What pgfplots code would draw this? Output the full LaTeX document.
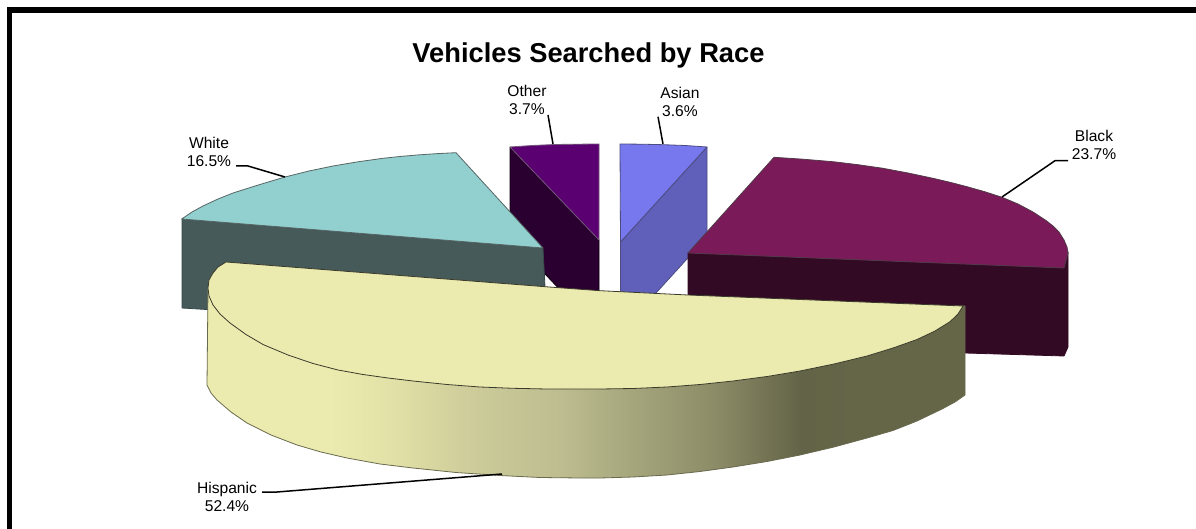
\documentclass[border=0pt]{standalone}
\usepackage{pgfplots}
\pgfplotsset{compat=1.18}
\usepackage{xcolor}
\usepackage{fontspec}
\setmainfont{Liberation Sans}

\definecolor{whitetop}{HTML}{92CFCF}
\definecolor{whiteside}{HTML}{465A5A}
\definecolor{othertop}{HTML}{5A0070}
\definecolor{otherside}{HTML}{2A0030}
\definecolor{asiantop}{HTML}{7777EE}
\definecolor{asianside}{HTML}{6060BB}
\definecolor{blacktop}{HTML}{7A1A58}
\definecolor{blackside}{HTML}{330A24}
\definecolor{hisptop}{HTML}{ECEBAF}
\definecolor{hspA}{HTML}{E0DFA5}
\definecolor{hspB}{HTML}{CBCA99}
\definecolor{hspC}{HTML}{BDBD90}
\definecolor{hspD}{HTML}{A5A57C}
\definecolor{hspE}{HTML}{8A8A66}
\definecolor{hspF}{HTML}{636347}
\definecolor{hspG}{HTML}{656548}

\pgfdeclarehorizontalshading{hispside}{100bp}{
  color(0bp)=(hisptop); color(33.1bp)=(hisptop);
  color(37.7bp)=(hspA);
  color(43bp)=(hspB);
  color(48.3bp)=(hspC);
  color(53.2bp)=(hspD);
  color(58.8bp)=(hspE);
  color(64.2bp)=(hspF);
  color(68bp)=(hspG);
  color(100bp)=(hspG)}

\begin{document}
\begin{tikzpicture}
\begin{axis}[
    scale only axis,
    width=1196pt,
    height=529pt,
    xmin=0, xmax=1196,
    ymin=0, ymax=529,
    y dir=reverse,
    hide axis,
    no marks,
    line join=round,
    every axis plot/.append style={line width=0.8pt},
]
% page background
\addplot[fill=white, draw=none] coordinates {(0,0) (1196,0) (1196,529) (0,529)} --cycle;
% outer frame, left and top only
\addplot[black, line width=5.5pt, line join=miter] coordinates {(9.5,529) (9.5,10) (1196,10)};

% Other
\addplot[fill=otherside, draw=black!70!otherside] coordinates {(510,147) (599,240) (599,331) (510,237)} --cycle;
\addplot[fill=othertop, draw=gray!70!othertop] coordinates {(510,147) (532,145.5) (555,144.5) (577,144.2) (599,144) (599,240)} --cycle;

% Asian
\addplot[fill=asianside, draw=blue!30!black!70] coordinates {(620.5,242) (707,147) (707,237) (620.5,332)} --cycle;
\addplot[fill=asiantop, draw=blue!30!black!70] coordinates {(620,144) (642,144.2) (663,144.7) (685,145.5) (707,147) (620.5,242)} --cycle;

% Black
\addplot[fill=blackside, draw=blackside] coordinates {(688,253) (1064,268) (1068,252) (1068,347) (1064,356) (965,353) (688,342)} --cycle;
\addplot[fill=blacktop, draw=blackside!60!gray] coordinates {
  (774,157.3) (803,159.2) (833,161.7) (858,164.7) (883,168.3) (908,173) (933,178.3) (950,182.3) (967,186.7)
  (985,191.8) (1002,197.3) (1018,204) (1033,212) (1046,220.5) (1053,226) (1059,232) (1064,240) (1067,247) (1068,253) (1064,268)
  (688,253)} --cycle;

% White
\addplot[fill=whiteside, draw=whiteside!80!black] coordinates {(182,219) (543,248) (545,287) (545,330) (182,308)} --cycle;
\addplot[fill=whitetop, draw=whiteside!70!gray] coordinates {
  (181.7,219) (192,212) (203,206) (218,199) (233,193) (259,184.8) (285,177) (309,171) (333,166)
  (358,161.8) (383,158.3) (400,156.5) (417,155) (436,153.7) (456,152.7) (543,248)} --cycle;

% Hispanic
\addplot[shading=hispside, draw=black!55!hisptop] coordinates {
  (208,288) (207,385) (211,393) (217,400) (231,412) (247,423) (271,435) (297,445) (321,452) (347,458)
  (380,464) (413,468) (456,472.5) (500,475.5) (540,477.5) (580,478) (600,478) (633,477) (667,475) (700,471.5) (733,467)
  (767,461.5) (800,455) (834,447) (867,438) (893,430.5) (917,421) (942,409) (955,402) (965,395) (965,306) (208,288)} --cycle;
\addplot[fill=hisptop, draw=black!75!hisptop] coordinates {
  (226,262) (545,286.7) (600,290.7) (688,295) (963,306) (958,314) (950,321.7) (935,331) (917,339.5) (893,348) (867,356)
  (834,364) (800,371) (767,376.5) (733,381) (700,384.5) (667,387) (633,388.5) (600,389) (547,389) (513,388.3)
  (480,387) (447,384.5) (413,381) (388,378) (363,374.5) (338,370) (313,363.5) (288,355) (263,344.5) (246,334.5) (230,323)
  (220,314) (213,305) (209,296) (208,288) (209,280) (213,273) (218,267)} --cycle;

% leader lines
\addplot[black, line width=1.5pt] coordinates {(236,166) (248,166) (285,177)};
\addplot[black, line width=1.5pt] coordinates {(548,115) (553,144)};
\addplot[black, line width=1.5pt] coordinates {(658,116.7) (663,144)};
\addplot[black, line width=1.5pt] coordinates {(1002,197) (1055,160.7) (1068,160.7)};
\addplot[black, line width=1.5pt] coordinates {(262,492) (277,492) (502,474)};

% text
\node[font=\fontsize{27.3}{30}\selectfont\bfseries] at (axis cs:588.5,55) {Vehicles Searched by Race};
\node[font=\fontsize{15.6}{18}\selectfont, align=center] at (axis cs:527,100) {Other\\3.7\%};
\node[font=\fontsize{15.6}{18}\selectfont, align=center] at (axis cs:680,102) {Asian\\3.6\%};
\node[font=\fontsize{15.6}{18}\selectfont, align=center] at (axis cs:1094,145) {Black\\23.7\%};
\node[font=\fontsize{15.6}{18}\selectfont, align=center] at (axis cs:209,152) {White\\16.5\%};
\node[font=\fontsize{15.6}{18}\selectfont, align=center] at (axis cs:227,497) {Hispanic\\52.4\%};
\end{axis}
\end{tikzpicture}
\end{document}
